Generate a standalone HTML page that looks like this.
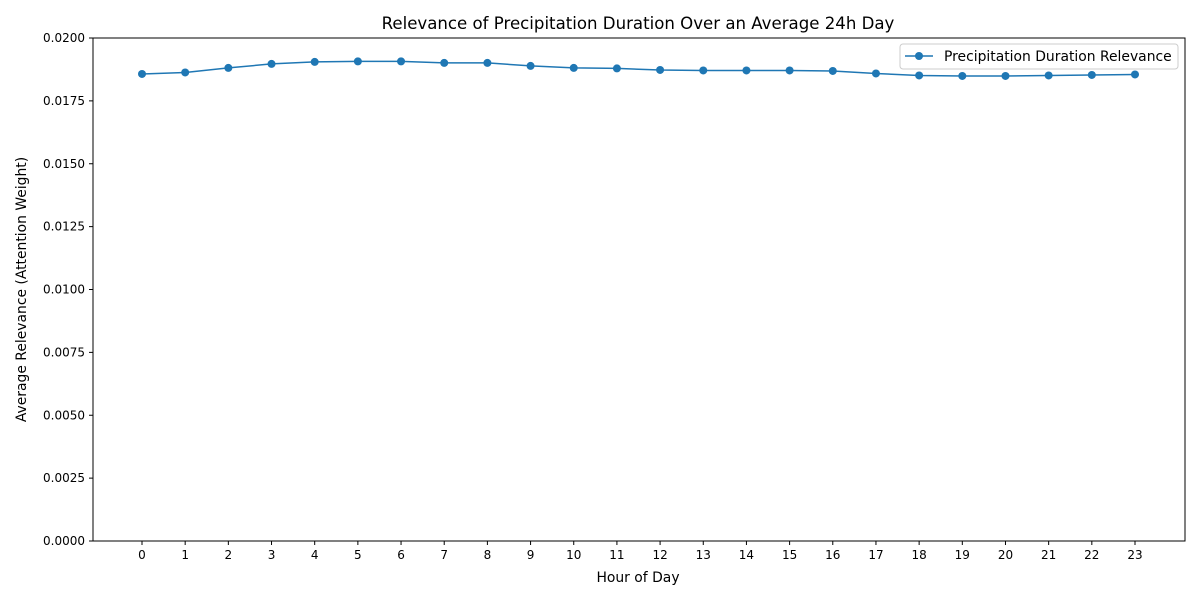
<!DOCTYPE html>
<html><head><meta charset="utf-8"><style>
body{margin:0;background:#fff;font-family:"Liberation Sans","DejaVu Sans",sans-serif;}
svg text{font-family:"DejaVu Sans","Liberation Sans",sans-serif;}
</style></head><body>
<svg id="chart" width="1200" height="600" xmlns="http://www.w3.org/2000/svg"></svg>
<script>
const hours=[0,1,2,3,4,5,6,7,8,9,10,11,12,13,14,15,16,17,18,19,20,21,22,23];
const relevance=[0.01857,0.01863,0.01881,0.01897,0.01905,0.01907,0.01907,0.01901,0.01901,0.01889,0.01881,0.01879,0.01873,0.01871,0.01871,0.01871,0.01869,0.01859,0.01851,0.01849,0.01849,0.01851,0.01853,0.01855];
const yTicks=[0,0.0025,0.005,0.0075,0.01,0.0125,0.015,0.0175,0.02];
const L=93,R=1185,T=38,B=541;
const xS=h=>142+(h-0)*(1135-142)/23;
const yS=v=>B-(v/0.02)*(B-T);
const svg=document.getElementById('chart');
const NS='http://www.w3.org/2000/svg';
function mk(tag,attrs,parent){const e=document.createElementNS(NS,tag);for(const k in attrs)e.setAttribute(k,attrs[k]);(parent||svg).appendChild(e);return e;}
const frame=mk('rect',{x:L,y:T,width:R-L,height:B-T,fill:'none',stroke:'#000','stroke-width':1});


yTicks.forEach(v=>{const y=yS(v);
 mk('line',{x1:L-4,x2:L,y1:y,y2:y,stroke:'#000'});
 const t=mk('text',{x:L-8,y:y+4,'text-anchor':'end','font-size':12});t.textContent=v.toFixed(4);
 
 
});
hours.forEach(h=>{const x=xS(h);
 mk('line',{x1:x,x2:x,y1:B,y2:B+4,stroke:'#000'});
 const t=mk('text',{x:x,y:B+18,'text-anchor':'middle','font-size':12});t.textContent=h;
 
 
});
const pts=hours.map((h,i)=>xS(h)+','+yS(relevance[i])).join(' ');
const line=mk('polyline',{points:pts,fill:'none',stroke:'#1f77b4','stroke-width':1.5});


hours.forEach((h,i)=>{const c=mk('circle',{cx:xS(h),cy:yS(relevance[i]),r:4,fill:'#1f77b4'});
 
 
});
const title=mk('text',{x:(L+R)/2-1,y:29,'text-anchor':'middle','font-size':16.6});title.textContent='Relevance of Precipitation Duration Over an Average 24h Day';


const xt=mk('text',{x:(L+R)/2-1,y:582,'text-anchor':'middle','font-size':13.9});xt.textContent='Hour of Day';


const yt=mk('text',{x:26,y:(T+B)/2,'text-anchor':'middle','font-size':13.9,transform:'rotate(-90 26 '+((T+B)/2)+')'});yt.textContent='Average Relevance (Attention Weight)';


const lg=mk('g',{});


mk('rect',{x:900,y:44,width:278,height:25,fill:'#fff',stroke:'#ccc',rx:3},lg);
mk('line',{x1:905,x2:933,y1:56,y2:56,stroke:'#1f77b4','stroke-width':1.5},lg);
mk('circle',{cx:919,cy:56,r:4,fill:'#1f77b4'},lg);
const lt=mk('text',{x:944,y:61,'font-size':13.9},lg);lt.textContent='Precipitation Duration Relevance';


</script>
</body></html>
